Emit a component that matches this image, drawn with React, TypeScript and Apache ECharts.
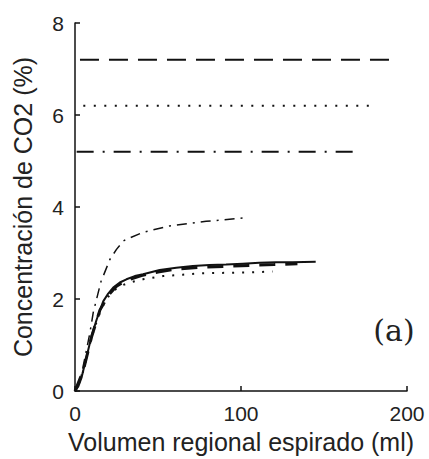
import React, { useEffect, useRef } from "react";
import * as echarts from "echarts";

// X values (ml) and CO2 concentrations (%)
const solidX = [0, 2, 4, 6, 8, 10, 13, 17, 20, 23, 27, 31, 36, 41, 51, 61, 71, 81, 91, 101, 111, 121, 131, 145];
const solidY = [0, 0.1, 0.3, 0.6, 0.9, 1.2, 1.55, 1.95, 2.12, 2.25, 2.36, 2.43, 2.5, 2.54, 2.63, 2.68, 2.72, 2.74, 2.75, 2.77, 2.79, 2.8, 2.8, 2.81];

const dashedX = [0, 5, 10, 15, 20, 25, 30, 40, 50, 60, 75, 90, 105, 120, 134];
const dashedY = [0, 0.45, 1.18, 1.76, 2.08, 2.28, 2.39, 2.51, 2.59, 2.65, 2.69, 2.71, 2.73, 2.75, 2.77];

const dotX = [0, 4, 8, 12, 16, 20, 24, 27, 33, 41, 53, 65, 75, 90, 105, 119];
const dotY = [0, 0.3, 0.9, 1.4, 1.8, 2.05, 2.2, 2.28, 2.36, 2.43, 2.5, 2.53, 2.56, 2.57, 2.58, 2.6];

const dashDotX = [0, 3, 7, 9, 11, 13, 16, 17, 21, 25, 29, 31, 41, 57, 79, 104];
const dashDotY = [0, 0.2, 0.91, 1.27, 1.71, 2.0, 2.43, 2.5, 2.86, 3.08, 3.26, 3.3, 3.45, 3.59, 3.69, 3.77];

// Horizontal reference levels: [value, xStart, xEnd]
const dashedLevel = [7.2, 3, 193];
const dottedLevel = [6.2, 5, 181];
const dashDotLevel = [5.2, 1, 171];

const xTicks = [0, 100, 200];
const yTicks = [0, 2, 4, 6, 8];

const xTitle = "Volumen regional espirado (ml)";
const yTitle = "Concentración de CO2 (%)";
const panelLabel = "(a)";

const pairs = (xs: number[], ys: number[]) => xs.map((x, i) => [x, ys[i]]);
const level = (l: number[]) => [[l[1], l[0]], [l[2], l[0]]];

export default function App() {
  const ref = useRef<HTMLDivElement>(null);
  useEffect(() => {
    if (!ref.current) return;
    const chart = echarts.init(ref.current, undefined, { renderer: "svg" });
    const base = {
      type: "line",
      showSymbol: false,
      symbol: "none",
      silent: true,
    };
    chart.setOption({
      animation: false,
      backgroundColor: "#ffffff",
      grid: { left: 75, right: 22, top: 23, bottom: 67 },
      xAxis: {
        type: "value",
        min: xTicks[0],
        max: xTicks[xTicks.length - 1],
        interval: 100,
        name: xTitle,
        nameLocation: "middle",
        nameGap: 34,
        nameTextStyle: { fontFamily: "Liberation Sans", fontSize: 25, color: "#222" },
        axisLine: { lineStyle: { color: "#111", width: 1.5 } },
        axisTick: { inside: true, length: 5, lineStyle: { color: "#111", width: 1.5 } },
        axisLabel: { fontFamily: "Liberation Sans", fontSize: 21, color: "#222", margin: 12 },
        splitLine: { show: false },
      },
      yAxis: {
        type: "value",
        min: yTicks[0],
        max: yTicks[yTicks.length - 1],
        interval: 2,
        name: yTitle,
        nameLocation: "middle",
        nameGap: 40,
        nameTextStyle: { fontFamily: "Liberation Sans", fontSize: 25, color: "#222" },
        axisLine: { show: true, lineStyle: { color: "#111", width: 1.5 } },
        axisTick: { show: true, inside: true, length: 5, lineStyle: { color: "#111", width: 1.5 } },
        axisLabel: { fontFamily: "Liberation Sans", fontSize: 21, color: "#222", margin: 11 },
        splitLine: { show: false },
      },
      series: [
        { ...base, data: level(dashedLevel), lineStyle: { color: "#111", width: 2, type: [19, 10] } },
        { ...base, data: level(dottedLevel), lineStyle: { color: "#111", width: 2, type: [2, 8.5] } },
        { ...base, data: level(dashDotLevel), lineStyle: { color: "#111", width: 2, type: [17, 9, 2, 9] } },
        { ...base, data: pairs(dashDotX, dashDotY), lineStyle: { color: "#111", width: 1.5, type: [10, 6, 2, 6] } },
        { ...base, data: pairs(dotX, dotY), lineStyle: { color: "#111", width: 2, type: [2, 8] } },
        { ...base, data: pairs(dashedX, dashedY), lineStyle: { color: "#111", width: 3, type: [16, 10] } },
        { ...base, data: pairs(solidX, solidY), lineStyle: { color: "#111", width: 2, type: "solid" } },
      ],
      graphic: [
        {
          type: "text",
          x: 394,
          y: 330,
          style: {
            text: panelLabel,
            font: "30px 'DejaVu Serif'",
            fill: "#222",
            textAlign: "center",
            textVerticalAlign: "middle",
          },
        },
      ],
    });
    return () => chart.dispose();
  }, []);
  return (
    <div
      ref={ref}
      style={{ position: "fixed", left: 0, top: 0, width: 429, height: 459, background: "#fff" }}
    />
  );
}
